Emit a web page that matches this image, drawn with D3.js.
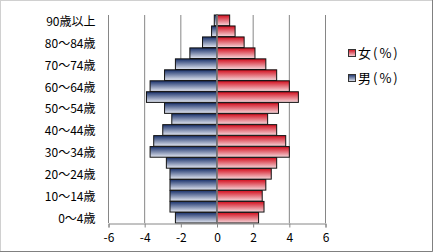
<!DOCTYPE html>
<html>
<head>
<meta charset="utf-8">
<script src="https://cdn.jsdelivr.net/npm/d3@7"></script>
<style>
  html, body { margin: 0; padding: 0; background: #fff; }
  svg text { font-family: "Noto Sans CJK JP", "Noto Sans", sans-serif; fill: #000; }
</style>
</head>
<body>
<svg id="chart" width="433" height="252"></svg>
<script>
// --- DATA ---
const ageGroups = ["0〜4歳", "5〜9歳", "10〜14歳", "15〜19歳", "20〜24歳", "25〜29歳", "30〜34歳",
  "35〜39歳", "40〜44歳", "45〜49歳", "50〜54歳", "55〜59歳", "60〜64歳", "65〜69歳",
  "70〜74歳", "75〜79歳", "80〜84歳", "85〜89歳", "90歳以上"];
const male = [-2.3, -2.6, -2.6, -2.6, -2.6, -2.8, -3.7, -3.5, -3.0, -2.5, -2.9, -3.9, -3.7, -2.9, -2.3, -1.5, -0.8, -0.3, -0.15];
const female = [2.3, 2.6, 2.5, 2.7, 3.0, 3.3, 4.0, 3.8, 3.3, 2.8, 3.4, 4.5, 4.0, 3.3, 2.7, 2.1, 1.5, 1.0, 0.7];
const xTicks = [-6, -4, -2, 0, 2, 4, 6];
const legendLabels = ["女(%)", "男(%)"];

const svg = d3.select("#chart");
const W = 433, H = 252;

// outer frame
svg.append("rect").attr("x", 0.5).attr("y", 0.5).attr("width", W - 1).attr("height", H - 1)
  .attr("fill", "#fff").attr("stroke", "#d0d0d0");
svg.append("path").attr("d", `M${W - 0.5},0 V${H - 0.5} H0`).attr("fill", "none").attr("stroke", "#808080");

// --- GRADIENTS ---
const defs = svg.append("defs");
function grad(id, top, bottom) {
  const g = defs.append("linearGradient").attr("id", id).attr("x1", 0).attr("y1", 0).attr("x2", 0).attr("y2", 1);
  g.append("stop").attr("offset", "0%").attr("stop-color", top);
  g.append("stop").attr("offset", "100%").attr("stop-color", bottom);
}
grad("gMale", "#18306a", "#e4e8f2");
grad("gFemale", "#d20c1c", "#f6d8dc");

// --- SCALES ---
const x = d3.scaleLinear().domain([-6, 6]).range([108.5, 325.5]);
const y = d3.scaleBand().domain(ageGroups.slice().reverse()).range([15, 223]).paddingInner(0.03);

// gridlines
svg.append("g").selectAll("line").data(xTicks.filter(t => t !== 0)).join("line")
  .attr("x1", d => x(d)).attr("x2", d => x(d)).attr("y1", 15).attr("y2", 223)
  .attr("stroke", "#868686").attr("stroke-width", 1);

// --- BARS ---
const rows = ageGroups.map((a, i) => ({ age: a, m: male[i], f: female[i] }));
svg.append("g").selectAll("rect").data(rows).join("rect")
  .attr("x", d => x(d.m)).attr("width", d => x(0) - x(d.m))
  .attr("y", d => y(d.age)).attr("height", y.bandwidth())
  .attr("fill", "url(#gMale)").attr("stroke", "#111").attr("stroke-width", 1);
svg.append("g").selectAll("rect").data(rows).join("rect")
  .attr("x", x(0)).attr("width", d => x(d.f) - x(0))
  .attr("y", d => y(d.age)).attr("height", y.bandwidth())
  .attr("fill", "url(#gFemale)").attr("stroke", "#111").attr("stroke-width", 1);

// zero line
svg.append("line").attr("x1", x(0)).attr("x2", x(0)).attr("y1", 15).attr("y2", 223)
  .attr("stroke", "#868686").attr("stroke-width", 1.5);

// --- AXES ---
const xAxis = svg.append("g").attr("transform", "translate(0,223.5)")
  .call(d3.axisBottom(x).tickValues(xTicks).tickSize(4).tickPadding(6).tickFormat(d => d < 0 ? "-" + Math.abs(d) : d));
xAxis.select(".domain").attr("stroke", "#868686");
xAxis.selectAll(".tick line").attr("stroke", "#868686");
xAxis.selectAll("text").attr("font-size", 12).style("font-family", "'Noto Sans CJK JP', sans-serif");

const shownAges = ageGroups.filter((a, i) => i % 2 === 0);
const yAxis = svg.append("g").attr("transform", `translate(${x(-6)},0)`)
  .call(d3.axisLeft(y).tickValues(shownAges).tickSize(0).tickPadding(13));
yAxis.select(".domain").remove();
yAxis.selectAll("text").attr("font-size", 12).attr("dy", "0.45em").style("font-family", "'Noto Sans CJK JP', sans-serif");

// --- LEGEND ---
const legend = svg.append("g").attr("transform", "translate(348,53)");
const lg = legend.selectAll("g").data(legendLabels).join("g")
  .attr("transform", (d, i) => `translate(0,${i * 25})`);
lg.append("rect").attr("x", 0.5).attr("y", -3.5).attr("width", 7).attr("height", 7)
  .attr("fill", (d, i) => i === 0 ? "url(#gFemale)" : "url(#gMale)").attr("stroke", "#333");
lg.append("text").attr("x", 10).attr("y", 0).attr("dy", "0.38em").attr("font-size", 13)
  .attr("letter-spacing", 2).text(d => d);
</script>
</body>
</html>
